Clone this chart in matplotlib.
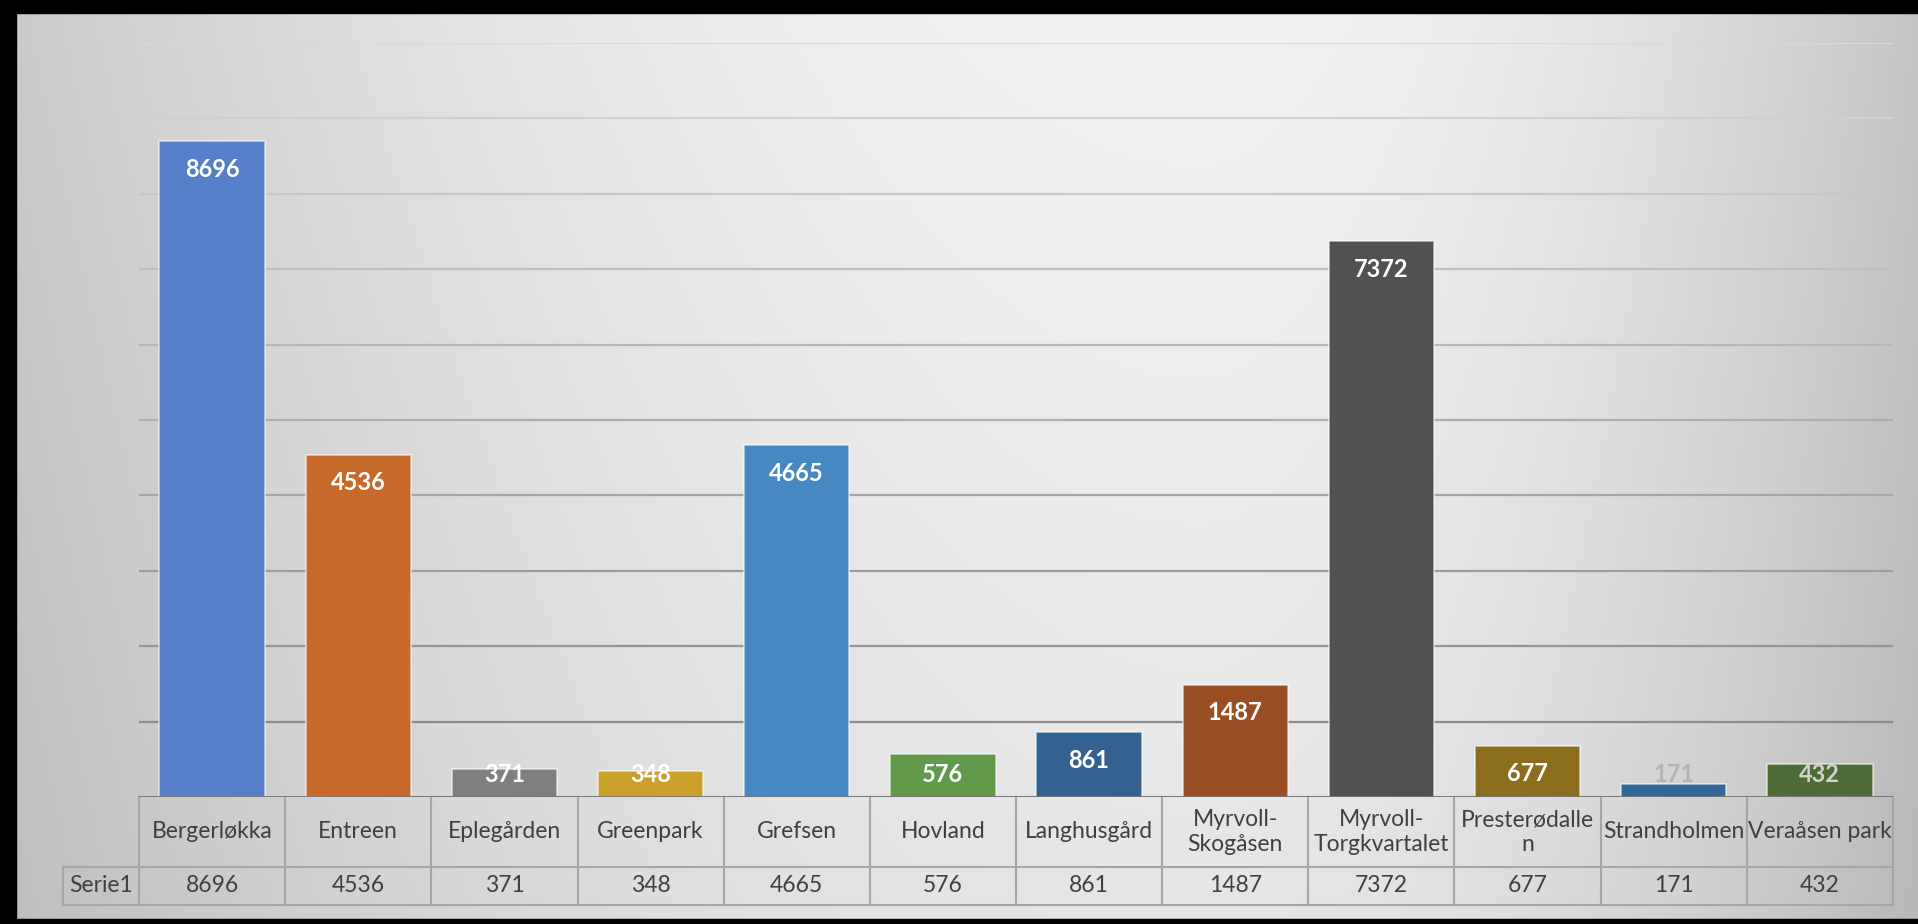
# Antall per område - stolpediagram med datatabell under
import numpy as np
import matplotlib.pyplot as plt
from matplotlib.patches import Rectangle
from matplotlib.transforms import blended_transform_factory

plt.rcParams['font.family'] = ['Lato', 'DejaVu Sans']

omrader = ['Bergerløkka', 'Entreen', 'Eplegården', 'Greenpark', 'Grefsen', 'Hovland',
           'Langhusgård', 'Myrvoll-\nSkogåsen', 'Myrvoll-\nTorgkvartalet', 'Presterødalle\nn',
           'Strandholmen', 'Veraåsen park']
serie1 = [8696, 4536, 371, 348, 4665, 576, 861, 1487, 7372, 677, 171, 432]
serienavn = 'Serie1'

farger = ['#567ec9', '#c8692c', '#7f7f7f', '#c9a12b', '#4788c2', '#629a4c',
          '#356191', '#9a4e23', '#515151', '#8b6d1d', '#336797', '#4e6d36']
etikettfarger = ['white'] * 10 + ['#b4b4b4', '#d2d2d2']

W, H = 1918, 924
fig = plt.figure(figsize=(W / 100, H / 100), dpi=100)

# bakgrunn med gradient (lys midt/topp, mørkere mot kantene)
bg = fig.add_axes([0, 0, 1, 1], zorder=-10)
xx, yy = np.meshgrid(np.arange(W), np.arange(H))
dx = np.where(xx < 1200, (xx - 1200) / 1250, (xx - 1200) / 700)
verdi = 0.95 - 0.17 * dx ** 2 - 0.05 * (yy / H)
bg.imshow(np.dstack([verdi] * 3), aspect='auto', extent=[0, 1, 0, 1])
bg.axis('off')

# svart ramme (topp, venstre, bunn)
for r in [(0, (H - 13) / H, 1, 13 / H), (0, 0, 16 / W, 1), (0, 0, 1, 5 / H)]:
    fig.patches.append(Rectangle(r[:2], r[2], r[3], transform=fig.transFigure,
                                 color='black', zorder=10))

ax = fig.add_axes([139 / W, 127 / H, (1893 - 139) / W, 754 / H])
ax.patch.set_alpha(0)
ax.set_xlim(-0.5, len(serie1) - 0.5)
ax.set_ylim(0, 10000)
ax.set_xticks([])
ax.set_yticks([])
for s in ax.spines.values():
    s.set_visible(False)

# rutenett
for g in range(1000, 10001, 1000):
    t = (g - 1000) / 9000
    ax.axhline(g, color=str(0.55 + 0.30 * t), lw=1.6, zorder=0)
ax.axhline(0, color='#6e6e6e', lw=2, zorder=3)

x = np.arange(len(serie1))
ax.bar(x, serie1, width=0.72, color=farger, edgecolor=(1, 1, 1, 0.6), lw=1.2, zorder=2)

for i, v in enumerate(serie1):
    ax.text(i, max(v - 371, 305), str(v), ha='center', va='center',
            color=etikettfarger[i], fontsize=17, fontweight='bold', zorder=4)

# datatabell
tr = blended_transform_factory(ax.transData, ax.transAxes)
y0, y1, y2 = 0, -70 / 754, -108 / 754
xl = -0.5 - 76 / 146
xr = len(serie1) - 0.5
lc = '#a6a6a6'
kw = dict(color=lc, lw=1.5, transform=tr, clip_on=False, zorder=1)
for k in range(len(serie1) + 1):
    ax.plot([k - 0.5, k - 0.5], [y0, y2], **kw)
ax.plot([-0.5, xr], [y1, y1], **kw)
ax.plot([xl, -0.5], [y1, y1], **kw)
ax.plot([xl, xr], [y2, y2], **kw)
ax.plot([xl, xl], [y1, y2], **kw)

tk = dict(ha='center', va='center', color='#404040', fontsize=16.5, transform=tr)
for i, navn in enumerate(omrader):
    ax.text(i, (y0 + y1) / 2, navn, linespacing=1.2, **tk)
    ax.text(i, (y1 + y2) / 2, str(serie1[i]), **tk)
ax.text((xl - 0.5) / 2, (y1 + y2) / 2, serienavn, **tk)

fig.savefig('out.png', dpi=100)
